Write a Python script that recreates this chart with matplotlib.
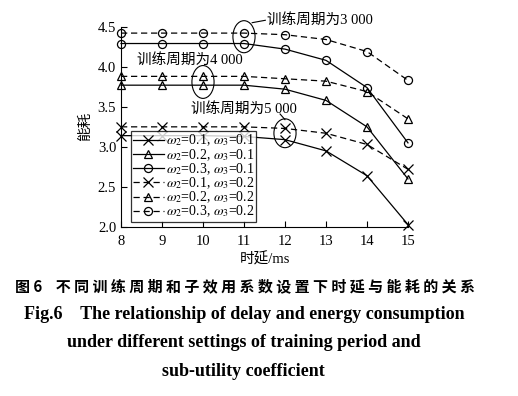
import matplotlib
matplotlib.use('Agg')
import matplotlib.pyplot as plt
from matplotlib.patches import Ellipse

plt.rcParams['font.family'] = ['Liberation Serif', 'Noto Sans CJK SC']
plt.rcParams['mathtext.fontset'] = 'stix'

# 数据
delay = [8, 9, 10, 11, 12, 13, 14, 15]
e_w01_01 = [3.14, 3.14, 3.14, 3.13, 3.09, 2.95, 2.64, 2.03]
e_w02_01 = [3.77, 3.77, 3.77, 3.77, 3.72, 3.58, 3.25, 2.60]
e_w03_01 = [4.29, 4.29, 4.29, 4.29, 4.22, 4.08, 3.74, 3.05]
e_w01_02 = [3.25, 3.25, 3.25, 3.25, 3.23, 3.17, 3.03, 2.72]
e_w02_02 = [3.88, 3.88, 3.88, 3.88, 3.85, 3.82, 3.69, 3.35]
e_w03_02 = [4.42, 4.42, 4.42, 4.42, 4.40, 4.34, 4.19, 3.83]

labels = [r'$\omega_2$=0.1, $\omega_3$=0.1', r'$\omega_2$=0.2, $\omega_3$=0.1',
          r'$\omega_2$=0.3, $\omega_3$=0.1', r'$\omega_2$=0.1, $\omega_3$=0.2',
          r'$\omega_2$=0.2, $\omega_3$=0.2', r'$\omega_2$=0.3, $\omega_3$=0.2']
series = [e_w01_01, e_w02_01, e_w03_01, e_w01_02, e_w02_02, e_w03_02]
markers = ['x', '^', 'o', 'x', '^', 'o']
styles = ['-', '-', '-', (0, (5, 3)), (0, (5, 3)), (0, (5, 3))]

fig = plt.figure(figsize=(5.18, 3.96), dpi=100)
ax = fig.add_axes([0.2336, 0.4268, 0.554, 0.5058])

for y, m, ls, lab in zip(series, markers, styles, labels):
    ax.plot(delay, y, linestyle=ls, marker=m, color='black', lw=0.9,
            markersize=7 if m == 'x' else 5.8, markerfacecolor='none',
            markeredgewidth=0.9, clip_on=False, label=lab)

ax.set_xlim(8, 15)
ax.set_ylim(2.0, 4.5)
ax.set_xticks(delay)
ax.set_yticks([2.0, 2.5, 3.0, 3.5, 4.0, 4.5])
ax.set_yticklabels(['2.0', '2.5', '3.0', '3.5', '4.0', '4.5'])
ax.tick_params(direction='in', labelsize=10.5, length=4, width=0.8)
ax.tick_params(axis='x', pad=6)
ax.spines['top'].set_visible(False)
ax.spines['right'].set_visible(False)
ax.set_xlabel('时延/ms', fontsize=10.5, labelpad=3)
ax.set_ylabel('能耗', fontsize=10.5, labelpad=4)

leg = ax.legend(loc='lower left', bbox_to_anchor=(0.035, 0.027), fontsize=10,
                frameon=True, fancybox=False, edgecolor='black', handlelength=2.2,
                handletextpad=0.15, labelspacing=-0.1, borderpad=0.15, borderaxespad=0)
leg.get_frame().set_linewidth(0.9)

# 椭圆标注
for cx, cy, h in [(11, 4.375, 0.40), (10, 3.81, 0.41), (12, 3.17, 0.36)]:
    ax.add_patch(Ellipse((cx, cy), 0.54, h, fill=False, edgecolor='black', lw=0.8, clip_on=False))

ax.text(11.55, 4.58, '训练周期为3 000', fontsize=10.5, va='center', ha='left')
ax.plot([11.2, 11.52], [4.55, 4.58], color='black', lw=0.8, clip_on=False)
ax.text(8.38, 4.08, '训练周期为4 000', fontsize=10.5, va='center', ha='left')
ax.text(9.7, 3.48, '训练周期为5 000', fontsize=10.5, va='center', ha='left')
ax.plot([11.88, 12.0], [3.41, 3.34], color='black', lw=0.8, clip_on=False)

cn_caption = ' '.join('不同训练周期和子效用系数设置下时延与能耗的关系')
fig.text(0.029, 0.276, '图 6    ' + cn_caption,
         ha='left', va='center', fontsize=10.8, fontweight='bold',
         family=['Noto Sans CJK SC', 'DejaVu Sans'])
fig.text(0.472, 0.205, 'Fig.6    The relationship of delay and energy consumption',
         ha='center', va='center', fontsize=13, fontweight='bold')
fig.text(0.47, 0.134, 'under different settings of training period and',
         ha='center', va='center', fontsize=13, fontweight='bold')
fig.text(0.47, 0.062, 'sub-utility coefficient',
         ha='center', va='center', fontsize=13, fontweight='bold')

fig.savefig('out.png', dpi=100)
